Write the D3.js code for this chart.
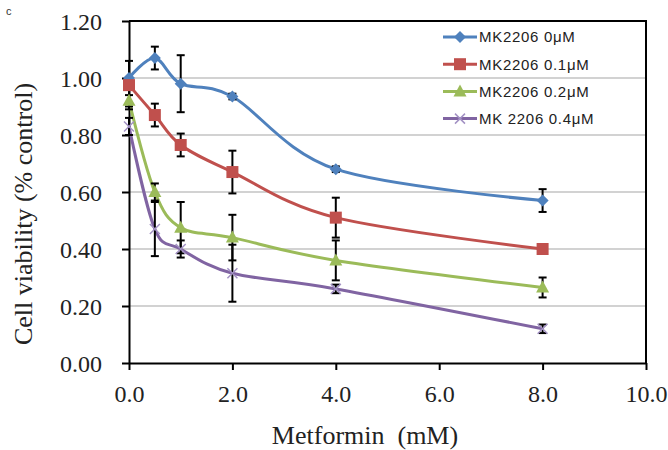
<!DOCTYPE html>
<html>
<head>
<meta charset="utf-8">
<script src="https://cdn.jsdelivr.net/npm/d3@7"></script>
<style>
  body { margin: 0; background: #fff; }
  svg { display: block; }
</style>
</head>
<body>
<svg id="chart" width="668" height="450"></svg>
<script>
// metformin doses (mM)
const doses = [0, 0.5, 1, 2, 4, 8];

// cell viability per MK2206 dose, with error bar half-lengths
const mk0 = [1.00, 1.07, 0.98, 0.935, 0.68, 0.57];
const mk0Err = [0, 0.04, 0.10, 0.01, 0.01, 0.04];
const mk01 = [0.975, 0.87, 0.765, 0.67, 0.51, 0.40];
const mk01Err = [0.085, 0.04, 0.04, 0.075, 0.07, 0.01];
const mk02 = [0.92, 0.60, 0.475, 0.44, 0.36, 0.265];
const mk02Err = [0.02, 0.03, 0.09, 0.08, 0.07, 0.035];
const mk04 = [0.83, 0.47, 0.40, 0.315, 0.26, 0.12];
const mk04Err = [0.03, 0.095, 0.03, 0.10, 0.015, 0.015];

const seriesNames = ["MK2206 0\u03bcM", "MK2206 0.1\u03bcM", "MK2206 0.2\u03bcM", "MK 2206 0.4\u03bcM"];
const xTicks = [0, 2, 4, 6, 8, 10];
const yTicks = [0, 0.2, 0.4, 0.6, 0.8, 1.0, 1.2];

const colors = ["#4f81bd", "#c0504d", "#9bbb59", "#8064a2"];
const symbols = ["diamond", "square", "triangle", "cross"];
const errs = [mk0Err, mk01Err, mk02Err, mk04Err];

const series = [mk0, mk01, mk02, mk04].map((vals, i) => ({
  name: seriesNames[i],
  color: colors[i],
  symbol: symbols[i],
  points: doses.map((d, j) => ({ x: d, y: vals[j], e: errs[i][j] }))
}));

const svg = d3.select("#chart");
const plotLeft = 129, plotRight = 646, plotTop = 21, plotBottom = 363;

const x = d3.scaleLinear().domain([0, 10]).range([plotLeft, plotRight]);
const y = d3.scaleLinear().domain([0, 1.2]).range([plotBottom, plotTop]);

// gridlines
svg.append("g")
  .selectAll("line")
  .data(yTicks.filter(t => t > 0 && t < 1.2))
  .join("line")
  .attr("x1", plotLeft).attr("x2", plotRight)
  .attr("y1", d => y(d)).attr("y2", d => y(d))
  .attr("stroke", "#a6a6a6").attr("stroke-width", 1.2);

// plot border (top and right)
svg.append("path")
  .attr("d", `M${plotLeft},${plotTop}H${plotRight}V${plotBottom}`)
  .attr("fill", "none").attr("stroke", "#000").attr("stroke-width", 2);

// axes
const xAxis = svg.append("g")
  .attr("transform", `translate(0,${plotBottom})`)
  .call(d3.axisBottom(x).tickValues(xTicks).tickSize(7).tickSizeOuter(0).tickFormat(d3.format(".1f")));
const yAxis = svg.append("g")
  .attr("transform", `translate(${plotLeft},0)`)
  .call(d3.axisLeft(y).tickValues(yTicks).tickSize(7).tickSizeOuter(0).tickFormat(d3.format(".2f")));

[xAxis, yAxis].forEach(g => {
  g.select(".domain").attr("stroke", "#000").attr("stroke-width", 2);
  g.selectAll(".tick line").attr("stroke", "#000").attr("stroke-width", 2);
  g.selectAll(".tick text")
    .attr("font-family", "'Liberation Serif', 'Times New Roman', serif")
    .attr("font-size", 24).attr("fill", "#222");
});
xAxis.selectAll(".tick text").attr("dy", null).attr("y", 39);
yAxis.selectAll(".tick text").attr("x", -27).attr("dy", "0.34em");

// axis titles
svg.append("text")
  .attr("x", 365).attr("y", 444)
  .attr("text-anchor", "middle")
  .attr("font-family", "'Liberation Serif', 'Times New Roman', serif")
  .attr("font-size", 26).attr("fill", "#222")
  .attr("xml:space", "preserve")
  .text("Metformin  (mM)");

svg.append("text")
  .attr("transform", "translate(32,214) rotate(-90)")
  .attr("text-anchor", "middle")
  .attr("font-family", "'Liberation Serif', 'Times New Roman', serif")
  .attr("font-size", 26).attr("fill", "#222")
  .text("Cell viability (% control)");

svg.append("text")
  .attr("x", 6).attr("y", 15)
  .attr("font-family", "'Liberation Sans', Arial, sans-serif")
  .attr("font-size", 11).attr("fill", "#333")
  .text("c");

const line = d3.line()
  .x(d => x(d.x)).y(d => y(d.y))
  .curve(d3.curveCardinal.tension(0));

function drawMarker(g, s, cx, cy) {
  if (s.symbol === "diamond") {
    g.append("path")
      .attr("d", `M${cx},${cy - 6}L${cx + 6},${cy}L${cx},${cy + 6}L${cx - 6},${cy}Z`)
      .attr("fill", s.color);
  } else if (s.symbol === "square") {
    g.append("rect")
      .attr("x", cx - 6).attr("y", cy - 6).attr("width", 12).attr("height", 12)
      .attr("fill", s.color);
  } else if (s.symbol === "triangle") {
    g.append("path")
      .attr("d", `M${cx},${cy - 7}L${cx + 6.5},${cy + 5}L${cx - 6.5},${cy + 5}Z`)
      .attr("fill", s.color);
  } else {
    g.append("path")
      .attr("d", `M${cx - 5},${cy - 5}L${cx + 5},${cy + 5}M${cx + 5},${cy - 5}L${cx - 5},${cy + 5}`)
      .attr("stroke", "#a392c4").attr("stroke-width", 1.5).attr("fill", "none");
  }
}

// lines
series.forEach(s => {
  svg.append("path")
    .datum(s.points)
    .attr("d", line)
    .attr("fill", "none")
    .attr("stroke", s.color)
    .attr("stroke-width", 3);
});

// error bars
series.forEach(s => {
  const g = svg.append("g").attr("stroke", "#000").attr("stroke-width", 2);
  s.points.filter(p => p.e > 0).forEach(p => {
    const cx = x(p.x), y1 = y(p.y + p.e), y2 = y(p.y - p.e);
    g.append("line").attr("x1", cx).attr("x2", cx).attr("y1", y1).attr("y2", y2);
    g.append("line").attr("x1", cx - 4).attr("x2", cx + 4).attr("y1", y1).attr("y2", y1);
    g.append("line").attr("x1", cx - 4).attr("x2", cx + 4).attr("y1", y2).attr("y2", y2);
  });
});

// markers
series.forEach(s => {
  const g = svg.append("g");
  s.points.forEach(p => drawMarker(g, s, x(p.x), y(p.y)));
});

// legend
const legend = svg.append("g");
series.forEach((s, i) => {
  const ly = 37 + i * 27.2;
  legend.append("line")
    .attr("x1", 443).attr("x2", 477).attr("y1", ly).attr("y2", ly)
    .attr("stroke", s.color).attr("stroke-width", 3);
  drawMarker(legend, s, 460, ly);
  legend.append("text")
    .attr("x", 479).attr("y", ly).attr("dy", "0.36em")
    .attr("font-family", "'Liberation Sans', Arial, sans-serif")
    .attr("font-size", 15).attr("letter-spacing", 0.7).attr("fill", "#222")
    .text(s.name);
});
</script>
</body>
</html>
